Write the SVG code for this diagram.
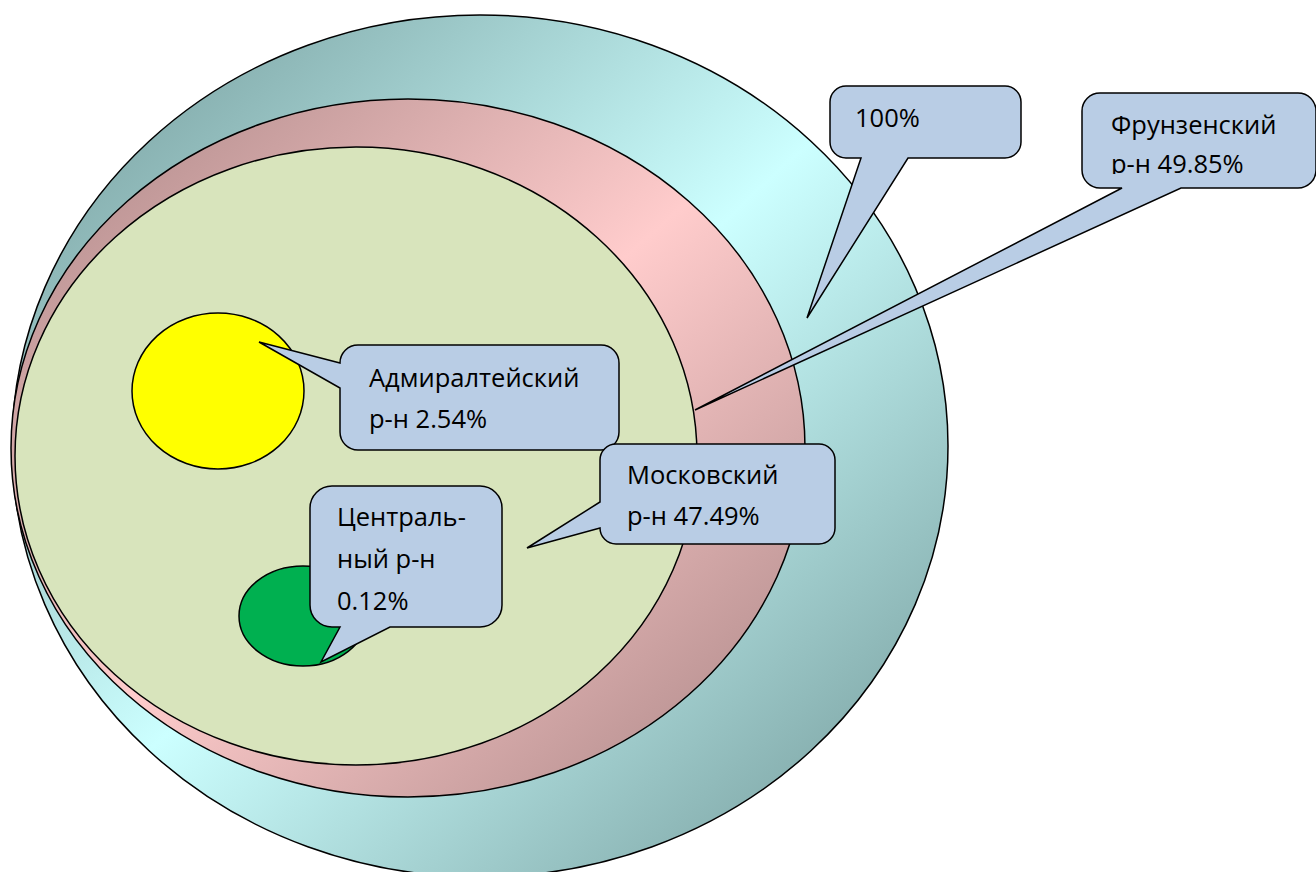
<svg xmlns="http://www.w3.org/2000/svg" width="1316" height="872" viewBox="0 0 1316 872">
<style>
.shape{stroke:#000;stroke-width:1.5}
.call{fill:#b9cde5;stroke:#000;stroke-width:1.5;stroke-linejoin:miter}
.t{font-family:"Open Sans","Noto Sans","Liberation Sans",sans-serif;font-size:25.5px;fill:#000}
</style>
<defs>
<linearGradient id="gCyan" x1="0" y1="0" x2="1" y2="1">
<stop offset="0" stop-color="#6f9494"/>
<stop offset="0.5" stop-color="#ccffff"/>
<stop offset="1" stop-color="#6f9494"/>
</linearGradient>
<linearGradient id="gPink" x1="0" y1="0" x2="1" y2="1">
<stop offset="0" stop-color="#a88484"/>
<stop offset="0.5" stop-color="#ffcccc"/>
<stop offset="1" stop-color="#a88484"/>
</linearGradient>
<clipPath id="clipFr"><rect x="1082" y="93" width="234" height="81"/></clipPath>
</defs>
<rect width="1316" height="872" fill="#fff"/>
<g id="total"><ellipse class="shape" cx="480" cy="446" rx="468" ry="431" fill="url(#gCyan)"/></g>
<g id="frunze"><ellipse class="shape" cx="408" cy="448" rx="397" ry="349" fill="url(#gPink)"/></g>
<g id="moscow"><ellipse class="shape" cx="356" cy="456" rx="341" ry="309" fill="#d8e4bc"/></g>
<g id="admiral"><ellipse class="shape" cx="218" cy="391" rx="86" ry="78" fill="#ffff00"/></g>
<g id="central"><ellipse class="shape" cx="303" cy="616" rx="64" ry="50" fill="#00b050"/></g>
<g id="connectors">
<g id="callout-100">
<path class="call" d="M 846,86 H 1005 A 16 16 0 0 1 1021,102 V 142 A 16 16 0 0 1 1005,158 H 908 L 807,318 L 861,158 H 846 A 16 16 0 0 1 830,142 V 102 A 16 16 0 0 1 846,86 Z"/>
<text class="t" x="855" y="127">100%</text>
</g>
<g id="callout-frunze">
<path class="call" d="M 1100,93 H 1298 A 18 18 0 0 1 1316,111 V 170 A 18 18 0 0 1 1298,188 H 1181 L 695,410 L 1122,188 H 1100 A 18 18 0 0 1 1082,170 V 111 A 18 18 0 0 1 1100,93 Z"/>
<g clip-path="url(#clipFr)">
<text class="t" x="1111" y="134">Фрунзенский</text>
<text class="t" x="1111" y="173">р-н 49.85%</text>
</g>
</g>
<g id="callout-admiral">
<path class="call" d="M 358,345 H 601 A 18 18 0 0 1 619,363 V 432 A 18 18 0 0 1 601,450 H 358 A 18 18 0 0 1 340,432 V 388 L 259,342 L 340,363 A 18 18 0 0 1 358,345 Z"/>
<text class="t" x="369" y="387">Адмиралтейский</text>
<text class="t" x="369" y="428">р-н 2.54%</text>
</g>
<g id="callout-central">
<path class="call" d="M 332,486 H 480 A 22 22 0 0 1 502,508 V 605 A 22 22 0 0 1 480,627 H 390 L 321,662 L 340,627 H 332 A 22 22 0 0 1 310,605 V 508 A 22 22 0 0 1 332,486 Z"/>
<text class="t" x="337" y="526">Централь-</text>
<text class="t" x="337" y="568">ный р-н</text>
<text class="t" x="337" y="610">0.12%</text>
</g>
<g id="callout-moscow">
<path class="call" d="M 616,444 H 819 A 16 16 0 0 1 835,460 V 528 A 16 16 0 0 1 819,544 H 616 A 16 16 0 0 1 600,528 L 527,548 L 600,502 V 460 A 16 16 0 0 1 616,444 Z"/>
<text class="t" x="627" y="484">Московский</text>
<text class="t" x="627" y="525">р-н 47.49%</text>
</g>
</g>
</svg>
